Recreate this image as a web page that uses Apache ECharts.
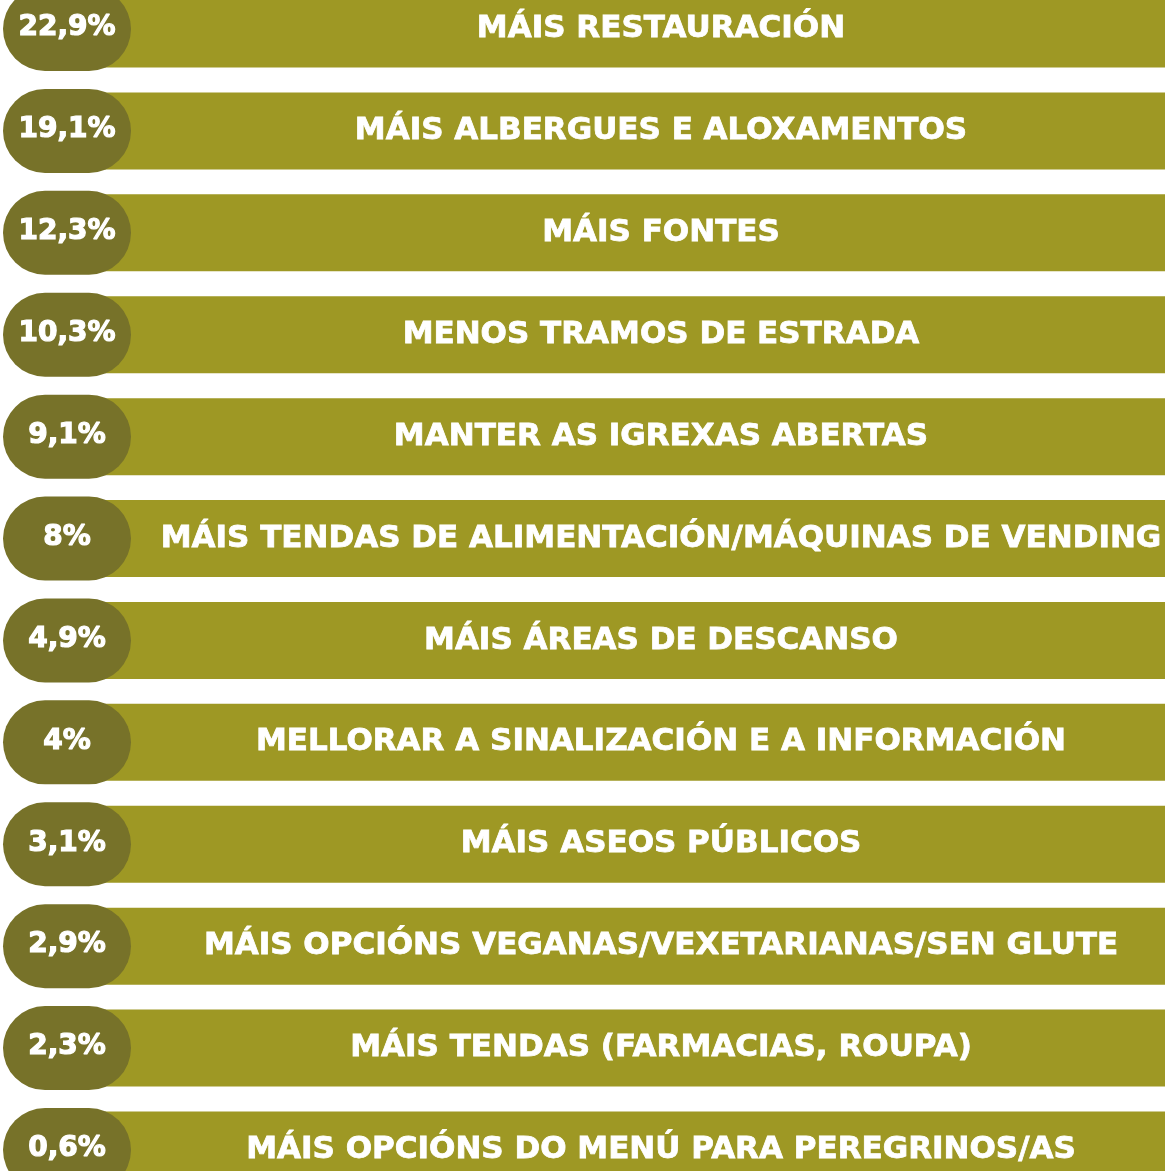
<!DOCTYPE html>
<html>
<head>
<meta charset="utf-8">
<script src="https://cdn.jsdelivr.net/npm/echarts@6/dist/echarts.min.js"></script>
<style>
  html, body { margin: 0; padding: 0; background: #ffffff; }
  #chart { width: 1165px; height: 1171px; }
</style>
</head>
<body>
<div id="chart"></div>
<script>
// Suggestions, ordered from most to least mentioned
const categories = [
  'MÁIS RESTAURACIÓN',
  'MÁIS ALBERGUES E ALOXAMENTOS',
  'MÁIS FONTES',
  'MENOS TRAMOS DE ESTRADA',
  'MANTER AS IGREXAS ABERTAS',
  'MÁIS TENDAS DE ALIMENTACIÓN/MÁQUINAS DE VENDING',
  'MÁIS ÁREAS DE DESCANSO',
  'MELLORAR A SINALIZACIÓN E A INFORMACIÓN',
  'MÁIS ASEOS PÚBLICOS',
  'MÁIS OPCIÓNS VEGANAS/VEXETARIANAS/SEN GLUTE',
  'MÁIS TENDAS (FARMACIAS, ROUPA)',
  'MÁIS OPCIÓNS DO MENÚ PARA PEREGRINOS/AS'
];

// Share of respondents (%)
const values = [22.9, 19.1, 12.3, 10.3, 9.1, 8, 4.9, 4, 3.1, 2.9, 2.3, 0.6];

const BAR_COLOR = '#9e9824';
const PILL_COLOR = '#777229';
const FONT = '"DejaVu Sans", "Noto Sans", sans-serif';

function pctLabel(v) {
  return String(v).replace('.', ',') + '%';
}

const chart = echarts.init(document.getElementById('chart'), null, { renderer: 'canvas' });

chart.setOption({
  animation: false,
  grid: { left: 0, right: 0, top: 29, bottom: 21, containLabel: false },
  xAxis: { type: 'value', min: 0, max: 1, show: false },
  yAxis: {
    type: 'category',
    data: categories,
    inverse: true,
    boundaryGap: false,
    show: false
  },
  series: [{
    type: 'custom',
    coordinateSystem: 'cartesian2d',
    encode: { x: 0, y: 1 },
    data: values.map((v, i) => [v, i]),
    renderItem: function (params, api) {
      const idx = api.value(1);
      const v = api.value(0);
      const cs = params.coordSys;
      const cy = api.coord([0, idx])[1];
      const barH = 77;
      const barX = 105;
      const pillW = 128, pillH = 84;
      const pillX = 3;
      const right = cs.x + cs.width;
      return {
        type: 'group',
        children: [
          {
            type: 'rect',
            shape: { x: barX, y: cy - barH / 2, width: right - barX, height: barH },
            style: { fill: BAR_COLOR }
          },
          {
            type: 'text',
            style: {
              text: categories[idx],
              x: (barX + 52 + right) / 2,
              y: cy,
              align: 'center',
              verticalAlign: 'middle',
              fill: '#ffffff',
              stroke: '#ffffff',
              lineWidth: 0.8,
              font: 'bold 31px ' + FONT
            }
          },
          {
            type: 'rect',
            shape: { x: pillX, y: cy - pillH / 2, width: pillW, height: pillH, r: pillH / 2 },
            style: { fill: PILL_COLOR }
          },
          {
            type: 'text',
            style: {
              text: pctLabel(v),
              x: pillX + pillW / 2,
              y: cy - 1,
              align: 'center',
              verticalAlign: 'middle',
              fill: '#ffffff',
              stroke: '#ffffff',
              lineWidth: 1.2,
              font: 'bold 28px ' + FONT
            }
          }
        ]
      };
    }
  }]
});
</script>
</body>
</html>
